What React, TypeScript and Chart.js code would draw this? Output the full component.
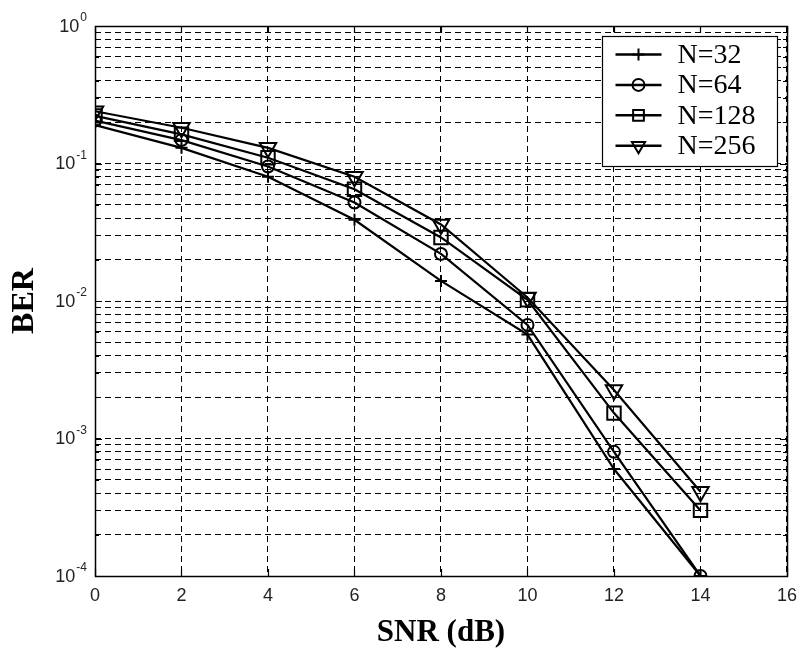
import React, { useEffect, useRef } from 'react';
import { Chart, registerables } from 'chart.js';

Chart.register(...registerables);

// ---- data ----
const snrDb = [0, 2, 4, 6, 8, 10, 12, 14];
const berN32 = [0.19, 0.13, 0.08, 0.039, 0.014, 0.0057, 0.0006, 0.0001];
const berN64 = [0.205, 0.148, 0.095, 0.052, 0.022, 0.0067, 0.0008, 0.0001];
const berN128 = [0.222, 0.163, 0.11, 0.065, 0.029, 0.0102, 0.00153, 0.0003];
const berN256 = [0.24, 0.182, 0.13, 0.08, 0.036, 0.0106, 0.00225, 0.00041];
const seriesLabels = ['N=32', 'N=64', 'N=128', 'N=256'];
const xTickValues = [0, 2, 4, 6, 8, 10, 12, 14, 16];
const yDecades = [-4, -3, -2, -1];
const yMinorSignificands = [1, 2, 3, 4, 5, 6, 7, 8, 9];
const yTickValues: number[] = [];
yDecades.forEach((d) => yMinorSignificands.forEach((s) => yTickValues.push(+(s * Math.pow(10, d)).toPrecision(3))));
yTickValues.push(1);
const yLabelExponents = [-4, -3, -2, -1, 0];

const SANS = '"Liberation Sans", "DejaVu Sans", Arial, sans-serif';
const SERIF = '"Liberation Serif", "Times New Roman", serif';

type MarkerSpec = { style: string; radius: number; rotation: number };
const markers: MarkerSpec[] = [
  { style: 'cross', radius: 6, rotation: 0 },
  { style: 'circle', radius: 6, rotation: 0 },
  { style: 'rect', radius: 9.5, rotation: 0 },
  { style: 'triangle', radius: 9.5, rotation: 180 },
];
const seriesValues = [berN32, berN64, berN128, berN256];

function drawMarker(ctx: CanvasRenderingContext2D, m: MarkerSpec, x: number, y: number, scale = 1) {
  const r = m.radius * scale;
  ctx.beginPath();
  if (m.style === 'cross') {
    ctx.moveTo(x - r, y);
    ctx.lineTo(x + r, y);
    ctx.moveTo(x, y - r);
    ctx.lineTo(x, y + r);
  } else if (m.style === 'circle') {
    ctx.arc(x, y, r, 0, Math.PI * 2);
  } else if (m.style === 'rect') {
    const s = Math.SQRT1_2 * r;
    ctx.rect(x - s, y - s, 2 * s, 2 * s);
  } else if (m.style === 'triangle') {
    let a = Math.PI;
    for (let k = 0; k < 3; k++) {
      const px = x + Math.sin(a) * r;
      const py = y - Math.cos(a) * r;
      if (k === 0) ctx.moveTo(px, py);
      else ctx.lineTo(px, py);
      a += (2 * Math.PI) / 3;
    }
    ctx.closePath();
  }
  ctx.stroke();
}

const framePlugin = {
  id: 'matlabFrame',
  afterDraw(chart: any) {
    const { ctx, chartArea } = chart;
    const { left, right, top, bottom } = chartArea;
    const xs = chart.scales.x;
    const ys = chart.scales.y;
    ctx.save();
    ctx.strokeStyle = '#000';
    ctx.lineWidth = 1.2;
    ctx.setLineDash([]);
    // inner ticks
    ctx.beginPath();
    xTickValues.forEach((v) => {
      const px = Math.round(xs.getPixelForValue(v)) + 0.5;
      ctx.moveTo(px, bottom);
      ctx.lineTo(px, bottom - 7);
      ctx.moveTo(px, top);
      ctx.lineTo(px, top + 7);
    });
    yTickValues.forEach((v) => {
      const py = Math.round(ys.getPixelForValue(v)) + 0.5;
      const major = Math.abs(Math.log10(v) - Math.round(Math.log10(v))) < 1e-6;
      const len = major ? 7 : 4;
      ctx.moveTo(left, py);
      ctx.lineTo(left + len, py);
      ctx.moveTo(right, py);
      ctx.lineTo(right - len, py);
    });
    ctx.stroke();
    // frame
    ctx.lineWidth = 1.5;
    ctx.strokeRect(Math.round(left) + 0.5, Math.round(top) + 0.5, Math.round(right - left), Math.round(bottom - top));

    // y tick labels: 10 with raised exponent
    ctx.fillStyle = '#222';
    ctx.textAlign = 'right';
    yLabelExponents.forEach((e) => {
      const py = ys.getPixelForValue(Math.pow(10, e));
      const expText = String(e);
      ctx.font = `12px ${SANS}`;
      const ew = ctx.measureText(expText).width;
      const xr = left - 8;
      ctx.textBaseline = 'alphabetic';
      ctx.fillText(expText, xr, py - 5);
      ctx.font = `18px ${SANS}`;
      ctx.textBaseline = 'middle';
      ctx.fillText('10', xr - ew - 1, py + 1);
    });

    // legend
    const bw = 175;
    const bh = 130;
    const bx = Math.round(right - 185) + 0.5;
    const by = Math.round(top + 10) + 0.5;
    ctx.fillStyle = '#fff';
    ctx.fillRect(bx, by, bw, bh);
    ctx.lineWidth = 1.2;
    ctx.strokeRect(bx, by, bw, bh);
    ctx.font = `28px ${SERIF}`;
    ctx.textBaseline = 'middle';
    ctx.textAlign = 'left';
    seriesLabels.forEach((label, i) => {
      const cy = by + 18 + i * 30.4;
      ctx.lineWidth = 2.5;
      ctx.beginPath();
      ctx.moveTo(bx + 13, cy);
      ctx.lineTo(bx + 59, cy);
      ctx.stroke();
      ctx.lineWidth = 2;
      drawMarker(ctx, markers[i], bx + 36, cy, i >= 2 ? 0.8 : 1);
      ctx.fillStyle = '#000';
      ctx.fillText(label, bx + 75, cy + 1);
    });
    ctx.restore();
  },
};

export default function App() {
  const canvasRef = useRef<HTMLCanvasElement | null>(null);

  useEffect(() => {
    document.body.style.margin = '0';
    const canvas = canvasRef.current;
    if (!canvas) return;

    const datasets = seriesValues.map((vals, i) => ({
      label: seriesLabels[i],
      data: snrDb.map((x, j) => ({ x, y: vals[j] })),
      borderColor: '#000',
      borderWidth: 2.2,
      backgroundColor: 'rgba(0,0,0,0)',
      fill: false,
      tension: 0,
      pointStyle: markers[i].style,
      pointRadius: markers[i].radius,
      pointRotation: markers[i].rotation,
      pointBorderWidth: 2,
      pointBorderColor: '#000',
      pointBackgroundColor: 'rgba(0,0,0,0)',
      pointHoverRadius: markers[i].radius,
    }));

    const chart = new Chart(canvas, {
      type: 'line',
      data: { datasets },
      plugins: [framePlugin],
      options: {
        responsive: false,
        animation: false,
        layout: { padding: { left: 0, right: 14, top: 26, bottom: 0 } },
        plugins: {
          legend: { display: false },
          tooltip: { enabled: false },
        },
        scales: {
          x: {
            type: 'linear',
            min: 0,
            max: 16,
            afterBuildTicks: (s: any) => {
              s.ticks = xTickValues.map((v) => ({ value: v }));
            },
            afterFit: (s: any) => {
              s.height = 77;
            },
            grid: { color: '#000', lineWidth: 1, drawTicks: false },
            border: { display: false, dash: [6, 4] },
            ticks: {
              color: '#222',
              font: { family: SANS, size: 18 },
              padding: 9,
              autoSkip: false,
              maxRotation: 0,
              callback: (v: any) => String(v),
            },
            title: {
              display: true,
              text: 'SNR (dB)',
              color: '#000',
              font: { family: SERIF, size: 31, weight: 'bold' },
              padding: { top: 0, bottom: 1 },
            },
          },
          y: {
            type: 'logarithmic',
            min: 1e-4,
            max: 1,
            afterBuildTicks: (s: any) => {
              s.ticks = yTickValues.map((v) => ({ value: v }));
            },
            afterFit: (s: any) => {
              s.width = 95;
            },
            grid: { color: '#000', lineWidth: 1, drawTicks: false },
            border: { display: false, dash: [6, 4] },
            ticks: { display: false, autoSkip: false },
            title: {
              display: true,
              text: 'BER',
              color: '#000',
              font: { family: SERIF, size: 32, weight: 'bold' },
              padding: { top: 6, bottom: 0 },
            },
          },
        },
      },
    } as any);

    return () => chart.destroy();
  }, []);

  return <canvas ref={canvasRef} width={806} height={653} style={{ display: 'block' }} />;
}
